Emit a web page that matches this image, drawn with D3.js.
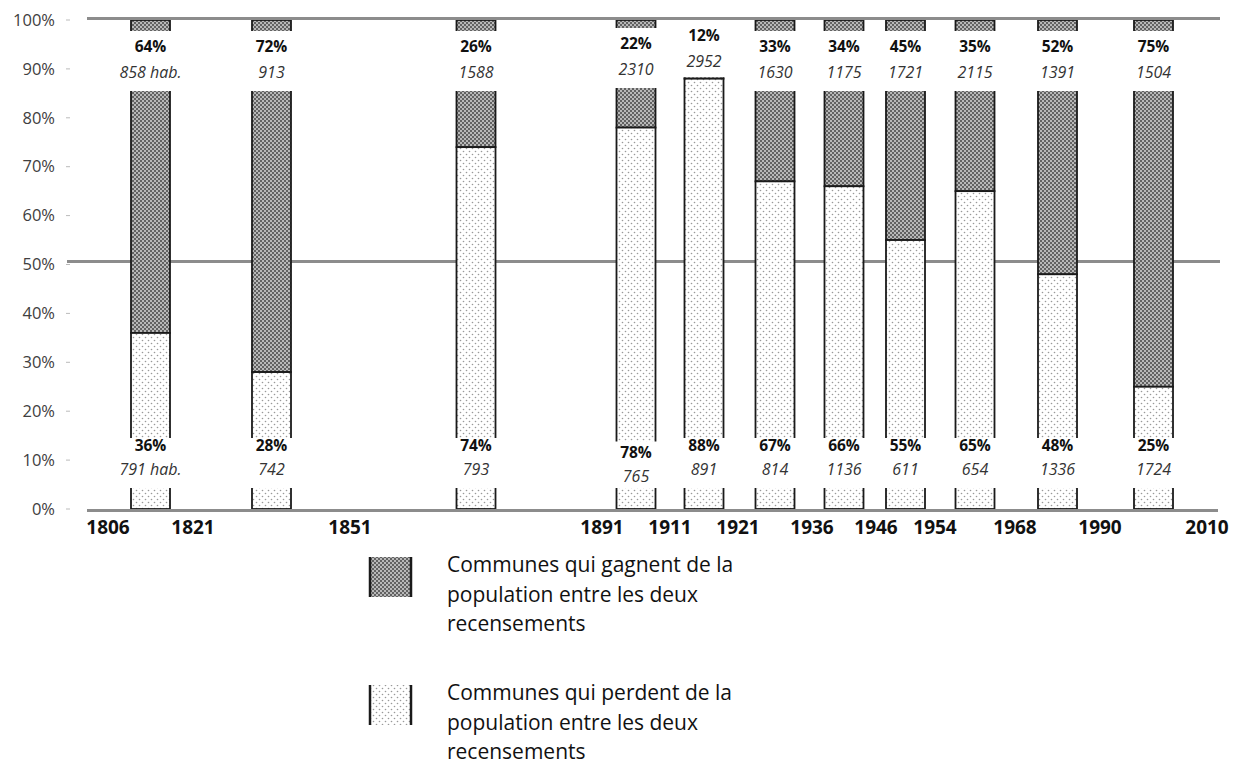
<!DOCTYPE html>
<html>
<head>
<meta charset="utf-8">
<script src="https://cdn.jsdelivr.net/npm/d3@7"></script>
<style>
  body { margin: 0; background: #fff; }
  text { font-family: "Open Sans", sans-serif; }
</style>
</head>
<body>
<div id="chart"></div>
<script>
// periods between two censuses
var startYears = [1806, 1821, 1851, 1891, 1911, 1921, 1936, 1946, 1954, 1968, 1990];
var endYears   = [1821, 1851, 1891, 1911, 1921, 1936, 1946, 1954, 1968, 1990, 2010];
// share of communes (%)
var gainPct = [64, 72, 26, 22, 12, 33, 34, 45, 35, 52, 75];
var losePct = [36, 28, 74, 78, 88, 67, 66, 55, 65, 48, 25];
// average population of those communes
var gainPop = ["858 hab.", "913", "1588", "2310", "2952", "1630", "1175", "1721", "2115", "1391", "1504"];
var losePop = ["791 hab.", "742", "793", "765", "891", "814", "1136", "611", "654", "1336", "1724"];
var yearTicks = [1806, 1821, 1851, 1891, 1911, 1921, 1936, 1946, 1954, 1968, 1990, 2010];
var pctTicks = [0, 10, 20, 30, 40, 50, 60, 70, 80, 90, 100];
var legendGain = ["Communes qui gagnent de la", "population entre les deux", "recensements"];
var legendLose = ["Communes qui perdent de la", "population entre les deux", "recensements"];

var w = 1235, h = 767;
var barW = 39;

// label nudges, keyed by start year (hand placed in the original)
var topShift = {1891: -3, 1911: -11};
var botShift = {1891: 7};

var data = startYears.map(function(s, i) {
  return {start: s, end: endYears[i], gain: gainPct[i], lose: losePct[i],
          gainPop: gainPop[i], losePop: losePop[i]};
});

var y = d3.scaleLinear().domain([0, 100]).range([509, 20]);
// the year axis is not to scale: piecewise mapping of census years
var x = d3.scaleLinear()
  .domain(yearTicks)
  .range([108, 193, 350, 602, 670, 738, 812, 876, 935, 1015, 1100, 1207]);

function cx(d) { return x((d.start + d.end) / 2); }

var svg = d3.select("#chart").append("svg")
  .attr("width", w)
  .attr("height", h);

var defs = svg.append("defs");
var pd = defs.append("pattern").attr("id", "dark")
  .attr("patternUnits", "userSpaceOnUse").attr("width", 4).attr("height", 4);
pd.append("rect").attr("width", 4).attr("height", 4).attr("fill", "#b8b8b8");
pd.append("rect").attr("width", 2).attr("height", 2).attr("fill", "#626262");
pd.append("rect").attr("x", 2).attr("y", 2).attr("width", 2).attr("height", 2).attr("fill", "#626262");

var pl = defs.append("pattern").attr("id", "light")
  .attr("patternUnits", "userSpaceOnUse").attr("width", 6).attr("height", 6);
pl.append("rect").attr("width", 6).attr("height", 6).attr("fill", "#fff");
pl.append("circle").attr("cx", 1.5).attr("cy", 1.5).attr("r", 0.8).attr("fill", "#999");
pl.append("circle").attr("cx", 4.5).attr("cy", 4.5).attr("r", 0.8).attr("fill", "#999");

// y axis labels
svg.selectAll(".ylab")
  .data(pctTicks)
  .enter().append("text")
  .attr("x", 55)
  .attr("y", function(d) { return y(d); })
  .attr("dy", "0.35em")
  .attr("text-anchor", "end")
  .style("font-size", "16.5px")
  .style("fill", "#404040")
  .text(function(d) { return d + "%"; });

svg.selectAll(".ytick")
  .data(pctTicks)
  .enter().append("line")
  .attr("x1", 66).attr("x2", 70)
  .attr("y1", function(d) { return y(d); })
  .attr("y2", function(d) { return y(d); })
  .style("stroke", "#bbb");

// 50% line sits behind the bars
svg.append("line")
  .attr("x1", 67).attr("x2", 1220)
  .attr("y1", y(50) - 3).attr("y2", y(50) - 3)
  .style("stroke", "#8c8c8c")
  .style("stroke-width", 3);

var bars = svg.selectAll(".bar")
  .data(data)
  .enter().append("g");

bars.append("rect")
  .attr("x", function(d) { return cx(d) - barW / 2; })
  .attr("y", y(100))
  .attr("width", barW)
  .attr("height", function(d) { return y(d.lose) - y(100); })
  .style("fill", "url(#dark)")
  .style("stroke", "#1a1a1a")
  .style("stroke-width", 1.8);

bars.append("rect")
  .attr("x", function(d) { return cx(d) - barW / 2; })
  .attr("y", function(d) { return y(d.lose); })
  .attr("width", barW)
  .attr("height", function(d) { return y(0) - y(d.lose); })
  .style("fill", "url(#light)")
  .style("stroke", "#1a1a1a")
  .style("stroke-width", 1.8);

// white label boxes cut through the bars
bars.append("rect")
  .attr("x", function(d) { return cx(d) - 40; })
  .attr("y", function(d) { return 31 + (topShift[d.start] || 0); })
  .attr("width", 80)
  .attr("height", function(d) {
    var top = 31 + (topShift[d.start] || 0);
    var bot = Math.min(91 + (topShift[d.start] || 0), y(d.lose) - 1.5);
    return bot - top;
  })
  .style("fill", "#fff");

bars.append("rect")
  .attr("x", function(d) { return cx(d) - 40; })
  .attr("y", function(d) { return 438 + (botShift[d.start] || 0) / 2; })
  .attr("width", 80)
  .attr("height", function(d) { return 50 - (botShift[d.start] || 0) / 2; })
  .style("fill", "#fff");

bars.append("text")
  .attr("x", cx)
  .attr("y", function(d) { return 47 + (topShift[d.start] || 0); })
  .attr("dy", "0.35em")
  .attr("text-anchor", "middle")
  .style("font-size", "15.5px")
  .style("font-weight", "bold")
  .style("fill", "#111")
  .text(function(d) { return d.gain + "%"; });

bars.append("text")
  .attr("x", cx)
  .attr("y", function(d) { return 72 + (topShift[d.start] || 0); })
  .attr("dy", "0.35em")
  .attr("text-anchor", "middle")
  .style("font-size", "16px")
  .style("font-style", "italic")
  .style("fill", "#333")
  .text(function(d) { return d.gainPop; });

bars.append("text")
  .attr("x", cx)
  .attr("y", function(d) { return 446 + (botShift[d.start] || 0); })
  .attr("dy", "0.35em")
  .attr("text-anchor", "middle")
  .style("font-size", "15.5px")
  .style("font-weight", "bold")
  .style("fill", "#111")
  .text(function(d) { return d.lose + "%"; });

bars.append("text")
  .attr("x", cx)
  .attr("y", function(d) { return 469 + (botShift[d.start] || 0); })
  .attr("dy", "0.35em")
  .attr("text-anchor", "middle")
  .style("font-size", "16px")
  .style("font-style", "italic")
  .style("fill", "#333")
  .text(function(d) { return d.losePop; });

// top and bottom rules
svg.append("line")
  .attr("x1", 87).attr("x2", 1220)
  .attr("y1", y(100) - 1.5).attr("y2", y(100) - 1.5)
  .style("stroke", "#8c8c8c")
  .style("stroke-width", 3);

svg.append("line")
  .attr("x1", 87).attr("x2", 1218)
  .attr("y1", y(0) + 1.5).attr("y2", y(0) + 1.5)
  .style("stroke", "#8c8c8c")
  .style("stroke-width", 3);

// census years
svg.selectAll(".xlab")
  .data(yearTicks)
  .enter().append("text")
  .attr("x", function(d) { return x(d); })
  .attr("y", 527)
  .attr("dy", "0.35em")
  .attr("text-anchor", "middle")
  .style("font-size", "19px")
  .style("font-weight", "bold")
  .style("fill", "#111")
  .text(function(d) { return d; });

// legend
function legendItem(top, fill, lines) {
  svg.append("rect")
    .attr("x", 370).attr("y", top)
    .attr("width", 41).attr("height", 40)
    .style("fill", fill);
  [370, 411].forEach(function(lx) {
    svg.append("line")
      .attr("x1", lx).attr("x2", lx)
      .attr("y1", top).attr("y2", top + 40)
      .style("stroke", "#1a1a1a")
      .style("stroke-width", 2.5);
  });
  svg.selectAll(null)
    .data(lines)
    .enter().append("text")
    .attr("x", 447)
    .attr("y", function(d, i) { return top + 8 + i * 29.5; })
    .attr("dy", "0.35em")
    .style("font-size", "21px")
    .style("fill", "#111")
    .text(function(d) { return d; });
}
legendItem(557, "url(#dark)", legendGain);
legendItem(685, "url(#light)", legendLose);
</script>
</body>
</html>
